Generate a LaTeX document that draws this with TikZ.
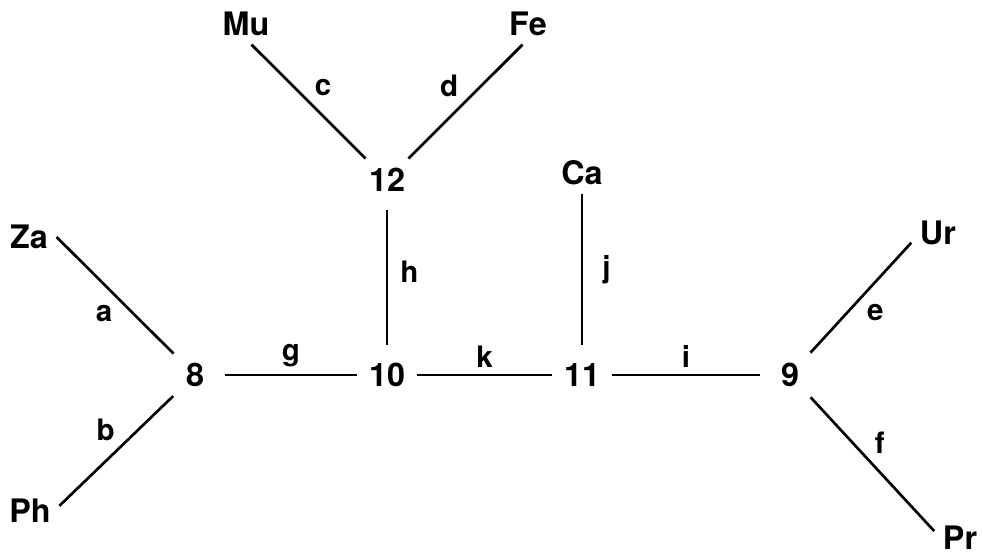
\documentclass[tikz,border=0pt]{standalone}
\usepackage{fontspec}
\setmainfont{TeX Gyre Heros}
\usetikzlibrary{positioning}

\begin{document}
\begin{tikzpicture}[x=0.025cm, y=-0.025cm, font=\fontsize{23}{27}\selectfont\bfseries,
  taxon/.style={inner sep=6pt},
  junction/.style={circle, minimum size=1.5cm, inner sep=0pt},
  branch/.style={line width=1.9pt},
  brlabel/.style={font=\fontsize{21}{25}\selectfont\bfseries, inner sep=3.5pt}
]
  \useasboundingbox (0,0) rectangle (983,555);
  % leaves
  \node[taxon] (Za) at (29,237) {Za};
  \node[taxon] (Ph) at (30,511) {Ph};
  \node[taxon] (Mu) at (246,24) {Mu};
  \node[taxon] (Fe) at (528,24) {Fe};
  \node[taxon] (Ca) at (582,173) {Ca};
  \node[taxon] (Ur) at (938,233) {Ur};
  \node[taxon] (Pr) at (960,538) {Pr};
  % inner nodes
  \node[junction] (n8) at (195,375) {8};
  \node[junction] (n12) at (387,180) {12};
  \node[junction] (n10) at (387,375) {10};
  \node[junction] (n11) at (582,375) {11};
  \node[junction] (n9) at (790,375) {9};

  \draw[branch] (Za.east) -- node[brlabel, pos=0.53, below left] {a} (n8);
  \draw[branch] (Ph.10) -- node[brlabel, pos=0.54, above left] {b} (n8);
  \draw[branch] (Mu.-75) -- node[brlabel, pos=0.5, above right] {c} (n12);
  \draw[branch] (Fe.-105) -- node[brlabel, pos=0.51, above left] {d} (n12);
  \draw[branch] (Ur.200) -- node[brlabel, pos=0.5, below right] {e} (n9);
  \draw[branch] (n9) -- node[brlabel, pos=0.47, above right] {f} (Pr.165);
  \draw[branch] (n8) -- node[brlabel, above=1pt] {g} (n10);
  \draw[branch] (n12) -- node[brlabel, pos=0.46, right=5pt] {h} (n10);
  \draw[branch] (n11) -- node[brlabel, above=1pt] {i} (n9);
  \draw[branch] (Ca) -- node[brlabel, right=10pt] {j} (n11);
  \draw[branch] (n10) -- node[brlabel, above=1pt] {k} (n11);
\end{tikzpicture}
\end{document}
